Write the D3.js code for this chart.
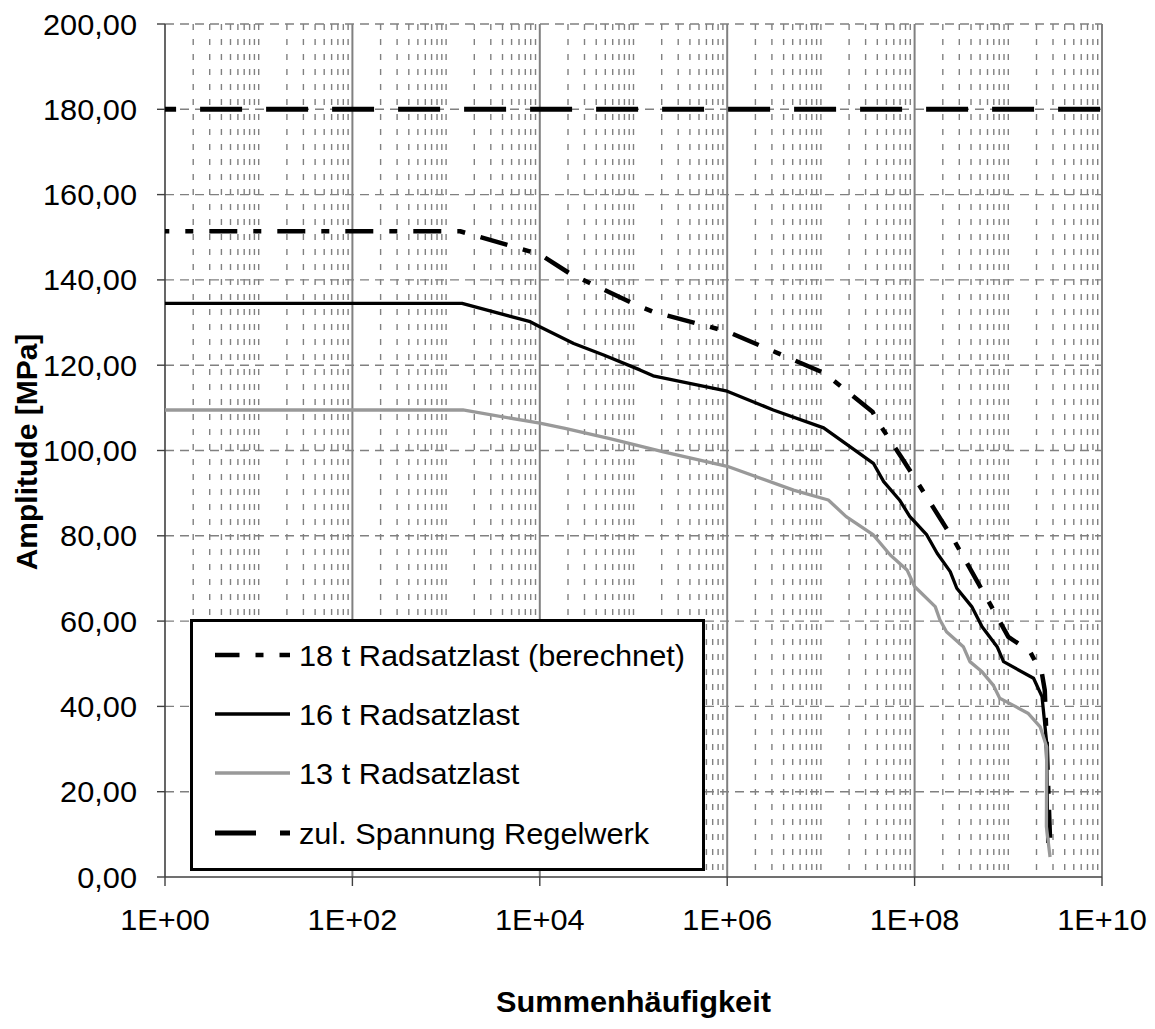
<!DOCTYPE html>
<html>
<head>
<meta charset="utf-8">
<script src="https://cdn.jsdelivr.net/npm/d3@7"></script>
<style>
  html, body { margin: 0; padding: 0; background: #fff; }
  text { font-family: "Liberation Sans", Arial, sans-serif; fill: #000; }
</style>
</head>
<body>
<svg id="chart" width="1155" height="1029"></svg>
<script>
// ---------- data ----------
const seriesNames = ["18 t Radsatzlast (berechnet)", "16 t Radsatzlast", "13 t Radsatzlast", "zul. Spannung Regelwerk"];

const s18x = [1, 1.41e3, 1.0e4, 2.09e4, 9.8e4, 1.58e5, 1.0e6, 1.1e7, 3.55e7, 4.07e7, 5.37e7, 7.2e7, 1.02e8, 2.69e8, 6.2e8, 1.0e9, 1.7e9, 2.29e9, 2.45e9, 2.57e9, 2.79e9];
const s18y = [151.4, 151.4, 146.0, 141.5, 134.5, 132.6, 127.9, 118.1, 109.1, 106.7, 102.7, 98.5, 93.3, 78.6, 64.5, 56.3, 52.9, 47.6, 43.8, 31.0, 8.7];

const s16x = [1, 1.48e3, 7.9e3, 1.0e4, 2.3e4, 4.8e4, 1.17e5, 1.62e5, 1.0e6, 3.1e6, 1.07e7, 2.04e7, 3.63e7, 4.68e7, 6.9e7, 8.9e7, 1.0e8, 1.35e8, 1.74e8, 2.4e8, 2.82e8, 4.07e8, 5.25e8, 7.6e8, 8.9e8, 1.86e9, 2.29e9, 2.57e9, 2.63e9];
const s16y = [134.5, 134.5, 130.2, 129.0, 125.1, 122.4, 118.9, 117.5, 113.9, 109.5, 105.3, 100.9, 97.0, 92.7, 88.4, 84.5, 83.3, 80.2, 75.9, 71.6, 67.7, 63.4, 58.7, 54.0, 50.5, 46.6, 42.3, 31.3, 8.0];

const s13x = [1, 1.51e3, 1.0e4, 1.86e4, 5.6e4, 2.09e5, 1.0e6, 5.1e6, 1.2e7, 1.86e7, 3.63e7, 5.5e7, 8.3e7, 1.0e8, 1.66e8, 1.86e8, 2.19e8, 3.31e8, 3.89e8, 5.25e8, 6.9e8, 8.1e8, 1.12e9, 1.62e9, 2.19e9, 2.57e9, 2.55e9, 2.79e9];
const s13y = [109.5, 109.5, 106.4, 105.2, 102.8, 99.7, 96.3, 90.7, 88.4, 84.5, 80.2, 75.5, 72.0, 68.1, 63.4, 60.3, 57.5, 54.0, 50.5, 48.1, 45.0, 41.9, 40.3, 38.4, 35.2, 30.5, 11.8, 4.7];

const zulX = [1, 1e10];
const zulY = [180, 180];

const yTicks = [0, 20, 40, 60, 80, 100, 120, 140, 160, 180, 200];
const yTickLabels = ["0,00", "20,00", "40,00", "60,00", "80,00", "100,00", "120,00", "140,00", "160,00", "180,00", "200,00"];
const xMajor = [1e0, 1e2, 1e4, 1e6, 1e8, 1e10];
const xTickLabels = ["1E+00", "1E+02", "1E+04", "1E+06", "1E+08", "1E+10"];
const xTitle = "Summenhäufigkeit";
const yTitle = "Amplitude [MPa]";

// ---------- layout ----------
const svg = d3.select("#chart");
const L = 165, R = 1102, T = 24, B = 877;
const x = d3.scaleLog().domain([1, 1e10]).range([L, R]);
const y = d3.scaleLinear().domain([0, 200]).range([B, T]);
const SX = 1.06; // horizontal text stretch
const FS = 29;
const grid = "#808080";

svg.append("rect").attr("width", 1155).attr("height", 1029).attr("fill", "#fff");

// minor vertical gridlines (every 1..9 x 10^n, except the labelled majors)
const allTicks = x.ticks(50);
const majorSet = new Set(xMajor.map(v => Math.round(Math.log10(v) * 1000)));
const minorTicks = allTicks.filter(v => !majorSet.has(Math.round(Math.log10(v) * 1000)));
svg.append("g").selectAll("line").data(minorTicks).join("line")
  .attr("x1", d => x(d)).attr("x2", d => x(d))
  .attr("y1", T).attr("y2", B)
  .attr("stroke", grid).attr("stroke-width", 1.4)
  .attr("stroke-dasharray", "6,9");

// horizontal gridlines (dashed)
svg.append("g").selectAll("line").data(yTicks.filter(v => v > 0)).join("line")
  .attr("x1", L).attr("x2", R)
  .attr("y1", d => y(d)).attr("y2", d => y(d))
  .attr("stroke", grid).attr("stroke-width", 1.4)
  .attr("stroke-dasharray", "9,6");

// major vertical gridlines (solid)
svg.append("g").selectAll("line").data(xMajor.slice(1)).join("line")
  .attr("x1", d => x(d)).attr("x2", d => x(d))
  .attr("y1", T).attr("y2", B)
  .attr("stroke", grid).attr("stroke-width", 2);

// axes lines
svg.append("line").attr("x1", L).attr("x2", L).attr("y1", T).attr("y2", B)
  .attr("stroke", "#404040").attr("stroke-width", 1.6);
svg.append("line").attr("x1", L).attr("x2", R).attr("y1", B).attr("y2", B)
  .attr("stroke", "#404040").attr("stroke-width", 1.6);

// y ticks and labels
svg.append("g").selectAll("line").data(yTicks).join("line")
  .attr("x1", L - 8).attr("x2", L).attr("y1", d => y(d)).attr("y2", d => y(d))
  .attr("stroke", "#404040").attr("stroke-width", 1.4);
svg.append("g").selectAll("text").data(yTicks).join("text")
  .attr("transform", d => `translate(137,${y(d) + 10.5}) scale(${SX},1)`)
  .attr("text-anchor", "end").attr("font-size", FS)
  .text((d, i) => yTickLabels[i]);

// x ticks and labels
svg.append("g").selectAll("line").data(xMajor).join("line")
  .attr("x1", d => x(d)).attr("x2", d => x(d)).attr("y1", B).attr("y2", B + 9)
  .attr("stroke", "#404040").attr("stroke-width", 1.4);
svg.append("g").selectAll("text").data(xMajor).join("text")
  .attr("transform", d => `translate(${x(d)},930) scale(${SX},1)`)
  .attr("text-anchor", "middle").attr("font-size", FS)
  .text((d, i) => xTickLabels[i]);

// axis titles
svg.append("text")
  .attr("transform", `translate(${(L + R) / 2},1012) scale(${SX},1)`)
  .attr("text-anchor", "middle").attr("font-size", FS).attr("font-weight", "bold")
  .text(xTitle);
svg.append("text")
  .attr("transform", `translate(37,452) rotate(-90)`)
  .attr("text-anchor", "middle").attr("font-size", 30).attr("font-weight", "bold")
  .text(yTitle);

// ---------- series ----------
const line = d3.line().x(d => x(d[0])).y(d => y(d[1]));
const zip = (a, b) => a.map((v, i) => [v, b[i]]);

const styles = [
  { data: zip(s18x, s18y), color: "#000", width: 4.5, dash: "28,16,8,16", offset: 23.7, legOffset: 3.5 },
  { data: zip(s16x, s16y), color: "#000", width: 3.3, dash: null, offset: 0, legOffset: 0 },
  { data: zip(s13x, s13y), color: "#999999", width: 3.3, dash: null, offset: 0, legOffset: 0 },
  { data: zip(zulX, zulY), color: "#000", width: 5, dash: "42,24", offset: 30.9, legOffset: 1 }
];

const drawOrder = [3, 0, 1, 2];
drawOrder.forEach(i => {
  const s = styles[i];
  svg.append("path").datum(s.data)
    .attr("d", line)
    .attr("fill", "none")
    .attr("stroke", s.color)
    .attr("stroke-width", s.width)
    .attr("stroke-linejoin", "round")
    .attr("stroke-dasharray", s.dash)
    .attr("stroke-dashoffset", s.offset);
});

// ---------- legend ----------
const lg = svg.append("g");
lg.append("rect").attr("x", 191.5).attr("y", 620.5).attr("width", 512).attr("height", 249)
  .attr("fill", "#fff").attr("stroke", "#000").attr("stroke-width", 3);
const legY = [655, 714, 773, 833];
seriesNames.forEach((name, i) => {
  const s = styles[i];
  lg.append("line").attr("x1", 215).attr("x2", 290).attr("y1", legY[i]).attr("y2", legY[i])
    .attr("stroke", s.color).attr("stroke-width", s.width)
    .attr("stroke-dasharray", s.dash).attr("stroke-dashoffset", s.legOffset);
  lg.append("text")
    .attr("transform", `translate(299,${legY[i] + 10.5}) scale(${SX},1)`)
    .attr("font-size", FS)
    .text(name);
});
</script>
</body>
</html>
